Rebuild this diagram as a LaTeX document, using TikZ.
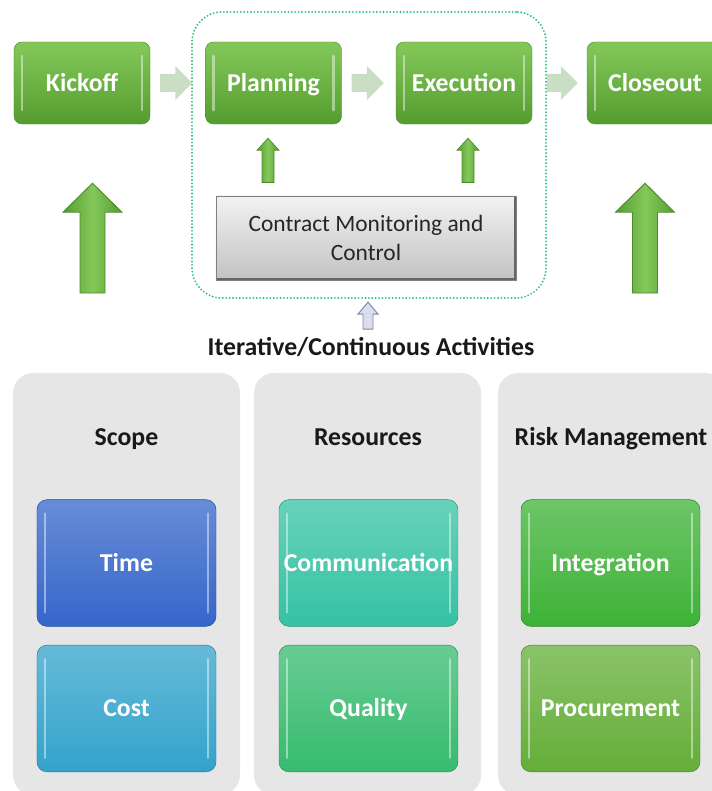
\documentclass[tikz,border=0pt]{standalone}
\usepackage{fontspec}
\setmainfont{Carlito}
\usetikzlibrary{positioning,calc,shadings}

\definecolor{phasetop}{HTML}{84C85A}
\definecolor{phasebot}{HTML}{559C30}
\definecolor{phaseline}{HTML}{4D8A2C}
\definecolor{flowgreen}{HTML}{C9DEC3}
\definecolor{loopgreen}{HTML}{2FC27C}
\definecolor{panelgray}{HTML}{E6E6E6}
\definecolor{ctrltop}{HTML}{F2F2F2}
\definecolor{ctrlbot}{HTML}{C2C2C2}
\definecolor{tinyfill}{HTML}{D9DDEE}
\definecolor{tinyline}{HTML}{7F86A6}
\definecolor{timeblue}{HTML}{3566CA}
\definecolor{costcyan}{HTML}{33A3CB}
\definecolor{commteal}{HTML}{35C2A3}
\definecolor{qualgreen}{HTML}{36BB6E}
\definecolor{intgreen}{HTML}{3DB236}
\definecolor{procgreen}{HTML}{64AE38}

% block arrows: style, tail, tip, shaft half width, head half width, head length (px)
\newcommand{\upblock}[6]{%
  \path[#1] let \p1=(#2), \p2=(#3) in
    (\x2-#4*0.03cm,\y1) -- (\x2-#4*0.03cm,\y2-#6*0.03cm) -- (\x2-#5*0.03cm,\y2-#6*0.03cm)
    -- (\x2,\y2) -- (\x2+#5*0.03cm,\y2-#6*0.03cm) -- (\x2+#4*0.03cm,\y2-#6*0.03cm)
    -- (\x2+#4*0.03cm,\y1) -- cycle;}
\newcommand{\rightblock}[6]{%
  \path[#1] let \p1=(#2), \p2=(#3) in
    (\x1,\y1-#4*0.03cm) -- (\x2-#6*0.03cm,\y1-#4*0.03cm) -- (\x2-#6*0.03cm,\y1-#5*0.03cm)
    -- (\x2,\y1) -- (\x2-#6*0.03cm,\y1+#5*0.03cm) -- (\x2-#6*0.03cm,\y1+#4*0.03cm)
    -- (\x1,\y1+#4*0.03cm) -- cycle;}

\begin{document}
\begin{tikzpicture}[x=0.03cm,y=-0.03cm,
    bevel/.style={path picture={
      \draw[white,opacity=.45,line width=2.2pt,line cap=round]
        ($(path picture bounding box.north west)+(8,14)$) -- ($(path picture bounding box.south west)+(8,-14)$)
        ($(path picture bounding box.north east)+(-8,14)$) -- ($(path picture bounding box.south east)+(-8,-14)$);}},
    shadowedge/.style={path picture={
      \draw[black!60,line width=3pt]
        (path picture bounding box.south west) -- (path picture bounding box.south east)
        -- (path picture bounding box.north east);}},
    phase/.style={rectangle,rounded corners=0.24cm,draw=phaseline,top color=phasetop,bottom color=phasebot,
      minimum width=4.08cm,minimum height=2.46cm,text=white,font=\fontsize{22}{26}\selectfont\bfseries,
      text height=17pt,text depth=3pt,bevel},
    area/.style={rectangle,rounded corners=0.3cm,draw=#1!75!black,top color=#1!75!white,bottom color=#1,
      minimum width=5.37cm,minimum height=3.8cm,text=white,font=\fontsize{22}{26}\selectfont\bfseries,
      text height=17pt,text depth=3pt,bevel},
    panel/.style={rectangle,rounded corners=0.6cm,fill=panelgray,minimum width=6.81cm,minimum height=12.66cm},
    heading/.style={text=black!90,font=\fontsize{22}{26}\selectfont\bfseries,text height=17pt,text depth=3pt},
    flow/.style={fill=flowgreen},
    bigup/.style={draw=phaseline,line width=0.8pt,left color=phasebot,right color=phasebot,middle color=phasetop},
    smallup/.style={draw=phaseline,line width=0.6pt,left color=phasebot,right color=phasebot,middle color=phasetop},
    tinyup/.style={draw=tinyline,line width=0.8pt,fill=tinyfill}]

  \useasboundingbox (0,0) rectangle (712,791);

  % process row
  \node[rectangle,rounded corners=0.9cm,draw=loopgreen,line width=1.8pt,line cap=round,
    dash pattern=on 0pt off 2.9pt,minimum width=10.62cm,minimum height=8.58cm] (loop) at (369,155) {};
  \node[phase] (kick) at (82,83) {Kickoff};
  \node[phase] (plan) at (273.5,83) {Planning};
  \node[phase] (exec) at (464,83) {Execution};
  \node[phase] (close) at (655,83) {Closeout};
  \node[rectangle,draw=black!50,line width=0.8pt,top color=ctrltop,bottom color=ctrlbot,shadowedge,
    minimum width=9cm,minimum height=2.52cm,align=center,text=black!85,
    font=\fontsize{20}{25.5}\selectfont] (ctrl) at (366,238) {Contract Monitoring and\\Control};
  \node[heading] (iter) at (371,347) {Iterative/Continuous Activities};

  \rightblock{flow}{$(kick.east)+(10,0)$}{$(plan.west)+(-13,0)$}{9}{17}{17}
  \rightblock{flow}{$(plan.east)+(10,0)$}{$(exec.west)+(-12,0)$}{9}{17}{17}
  \rightblock{flow}{$(exec.east)+(15,0)$}{$(close.west)+(-9,0)$}{9}{17}{17}

  \upblock{smallup}{$(plan.south |- ctrl.north)+(-5.5,-13)$}{$(plan.south)+(-5.5,14)$}{6}{11}{12}
  \upblock{smallup}{$(exec.south |- ctrl.north)+(4,-13)$}{$(exec.south)+(4,14)$}{6}{11}{12}

  \coordinate (kbase) at (92.5,293);
  \coordinate (cbase) at (645,293);
  \upblock{bigup}{kbase}{$(kick.south)+(10.5,59)$}{12.5}{29.5}{29}
  \upblock{bigup}{cbase}{$(close.south)+(-10,59)$}{12.5}{29.5}{29}

  \upblock{tinyup}{$(iter.north)+(-3,-2)$}{$(loop.south)+(-1,3)$}{5}{10}{12}

  % knowledge areas
  \node[panel] (scope) at (126.5,584) {};
  \node[panel] (res) at (367.5,584) {};
  \node[panel] (risk) at (611.5,584) {};

  \node[heading] (scopet) at (126.5,437) {Scope};
  \node[heading] (rest) at (368,437) {Resources};
  \node[heading] (riskt) at (611,437) {Risk Management};

  \node[area=timeblue] (time) at (126.5,563) {Time};
  \node[area=costcyan] (cost) at (126.5,708.5) {Cost};
  \node[area=commteal] (comm) at (368.5,563) {Communication};
  \node[area=qualgreen] (qual) at (368.5,708.5) {Quality};
  \node[area=intgreen] (integ) at (610.5,563) {Integration};
  \node[area=procgreen] (proc) at (610.5,708.5) {Procurement};
\end{tikzpicture}
\end{document}
